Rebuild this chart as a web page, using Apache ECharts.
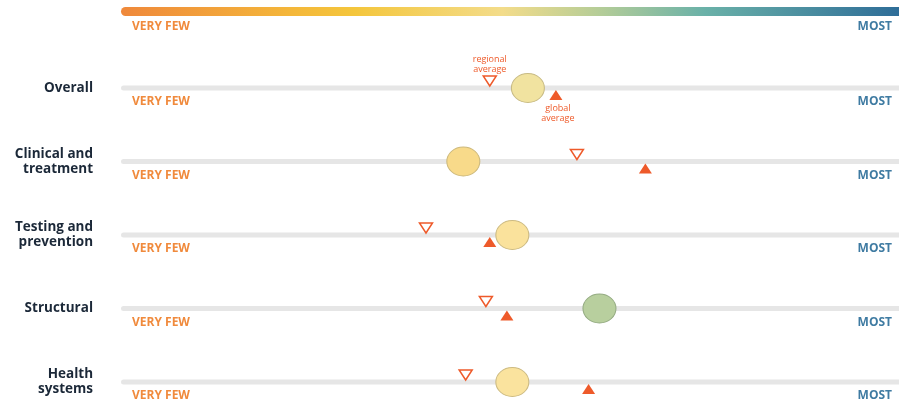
<!DOCTYPE html>
<html>
<head>
<meta charset="utf-8">
<script src="https://cdn.jsdelivr.net/npm/echarts@6/dist/echarts.min.js"></script>
<style>
html, body { margin: 0; padding: 0; background: #fff; }
#chart { width: 899px; height: 402px; }
</style>
</head>
<body>
<div id="chart"></div>
<script>
// rows, top to bottom
const categories = ['Overall', 'Clinical and\ntreatment', 'Testing and\nprevention', 'Structural', 'Health\nsystems'];
// position on the "very few" (0) -> "most" (100) scale
const countryValues = [52.3, 44.0, 50.3, 61.5, 50.3];
const regionalAverage = [47.4, 58.6, 39.2, 46.9, 44.3];
const globalAverage = [55.9, 67.4, 47.4, 49.6, 60.1];
const scaleLabels = ['VERY FEW', 'MOST'];

// styles
const circleColors = ['#f1e3a0', '#f8da8a', '#fae29c', '#b8cf9e', '#fae39e'];
const circleBorders = ['#c8bb85', '#cdb97c', '#cdbb82', '#94ab82', '#cdbb82'];
const triColor = '#ee5a2a';
const font = '"Open Sans", sans-serif';

let chart = echarts.init(document.getElementById('chart'));

chart.setOption({
	animation: false,
	grid: { left: 121, right: 0, top: 88, bottom: 20 },
	xAxis: {
		type: 'value',
		min: 0,
		max: 100,
		show: false
	},
	yAxis: {
		type: 'category',
		data: categories,
		inverse: true,
		boundaryGap: false,
		axisLine: { show: false },
		axisTick: { show: false },
		splitLine: { show: false },
		axisLabel: {
			margin: 28,
			align: 'right',
			fontFamily: font,
			fontWeight: 'bold',
			fontSize: 13.5,
			lineHeight: 15,
			color: '#1b2838'
		}
	},
	graphic: [
		{
			type: 'rect',
			shape: { x: 121, y: 7, width: 778, height: 9, r: [4.5, 0, 0, 4.5] },
			style: {
				fill: new echarts.graphic.LinearGradient(0, 0, 1, 0, [
					{ offset: 0, color: '#ef883b' },
					{ offset: 0.22, color: '#f4b73a' },
					{ offset: 0.3, color: '#f4c63c' },
					{ offset: 0.49, color: '#f3dc8a' },
					{ offset: 0.62, color: '#b2cc98' },
					{ offset: 0.75, color: '#6ab1a8' },
					{ offset: 1, color: '#2e6d98' }
				])
			}
		},
		{
			type: 'text', left: 132, top: 21,
			style: { text: scaleLabels[0], font: 'bold 12px ' + font, fill: '#f08a3c' }
		},
		{
			type: 'text', right: 7, top: 21,
			style: { text: scaleLabels[1], font: 'bold 12px ' + font, fill: '#3f7ba2', align: 'right' }
		}
	],
	series: [
		{
			// grey track for each row
			type: 'bar',
			data: categories.map(() => 100),
			barWidth: 5,
			silent: true,
			itemStyle: { color: '#e6e6e6', borderRadius: [2.5, 0, 0, 2.5] },
			z: 1
		},
		{
			type: 'scatter',
			data: categories.map((c, i) => [0, i]),
			symbolSize: 0,
			silent: true,
			itemStyle: { opacity: 1 },
			label: {
				show: true,
				position: 'right',
				distance: 11,
				offset: [0, 14],
				formatter: scaleLabels[0],
				fontFamily: font,
				fontWeight: 'bold',
				fontSize: 12,
				color: '#f08a3c'
			}
		},
		{
			type: 'scatter',
			data: categories.map((c, i) => [100, i]),
			symbolSize: 0,
			silent: true,
			itemStyle: { opacity: 1 },
			label: {
				show: true,
				position: 'left',
				distance: 7,
				offset: [0, 14],
				formatter: scaleLabels[1],
				fontFamily: font,
				fontWeight: 'bold',
				fontSize: 12,
				color: '#3f7ba2'
			}
		},
		{
			name: 'country',
			type: 'scatter',
			symbol: 'circle',
			symbolSize: [33, 29],
			z: 5,
			data: countryValues.map((v, i) => ({
				value: [v, i],
				itemStyle: { color: circleColors[i], borderColor: circleBorders[i], borderWidth: 1, opacity: 1 }
			}))
		},
		{
			name: 'regional average',
			type: 'scatter',
			symbol: 'triangle',
			symbolRotate: 180,
			symbolSize: [13, 10],
			symbolOffset: [0, -7],
			z: 4,
			itemStyle: { color: '#fff', borderColor: triColor, borderWidth: 1.5, opacity: 1 },
			data: regionalAverage.map((v, i) => ({
				value: [v, i],
				label: i === 0 ? {
					show: true,
					position: 'top',
					distance: 1,
					formatter: 'regional\naverage',
					fontFamily: font,
					fontSize: 9,
					lineHeight: 10,
					color: triColor
				} : { show: false }
			}))
		},
		{
			name: 'global average',
			type: 'scatter',
			symbol: 'triangle',
			symbolSize: [13, 10],
			symbolOffset: [0, 7],
			z: 4,
			itemStyle: { color: triColor, opacity: 1 },
			data: globalAverage.map((v, i) => ({
				value: [v, i],
				label: i === 0 ? {
					show: true,
					position: 'bottom',
					distance: 3,
					offset: [2, 0],
					formatter: 'global\naverage',
					fontFamily: font,
					fontSize: 9,
					lineHeight: 10,
					color: triColor
				} : { show: false }
			}))
		}
	]
});
</script>
</body>
</html>
